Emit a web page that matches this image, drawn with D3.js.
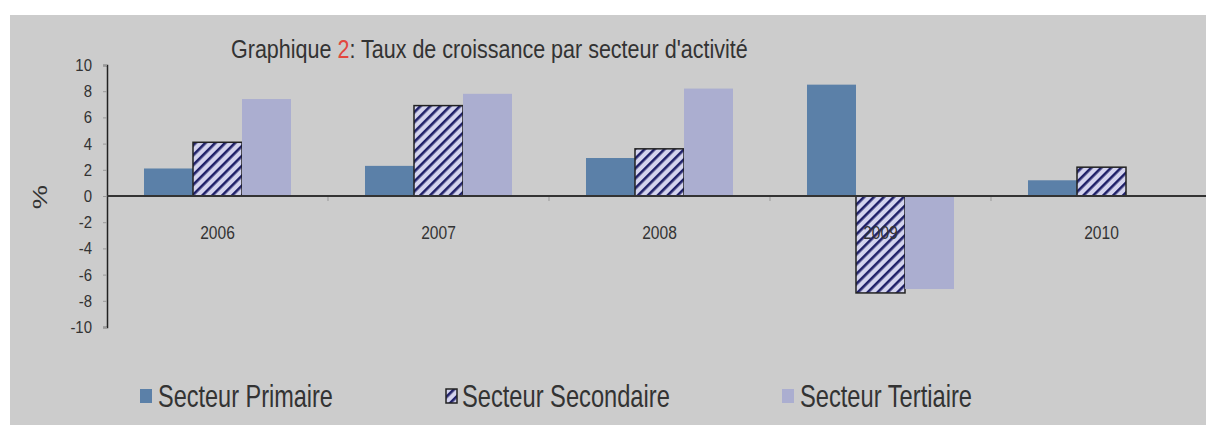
<!DOCTYPE html>
<html>
<head>
<meta charset="utf-8">
<script src="https://cdn.jsdelivr.net/npm/d3@7"></script>
<style>
  body { margin: 0; background: #fff; }
  svg { display: block; }
  text { font-family: "Liberation Sans", Arial, sans-serif; fill: #333; }
</style>
</head>
<body>
<svg width="1206" height="425"></svg>
<script>
const years = ["2006", "2007", "2008", "2009", "2010"];
const sectors = ["Secteur Primaire", "Secteur Secondaire", "Secteur Tertiaire"];
const primaire = [2.1, 2.3, 2.9, 8.5, 1.2];
const secondaire = [4.1, 6.9, 3.6, -7.4, 2.2];
const tertiaire = [7.4, 7.8, 8.2, -7.1, 0];
const yTicks = [10, 8, 6, 4, 2, 0, -2, -4, -6, -8, -10];

const svg = d3.select("svg");
const width = +svg.attr("width");
const height = +svg.attr("height");

// the original picture is stretched vertically, so text is squeezed in x
function squeeze(g, target) {
  const w = g.node().getBBox().width;
  const t = g.attr("data-t");
  g.attr("transform", t + " scale(" + target / w + ",1)");
}

// hatched pattern for the secondary sector
const defs = svg.append("defs");
const pat = defs
  .append("pattern")
  .attr("id", "hatch")
  .attr("patternUnits", "userSpaceOnUse")
  .attr("width", 7)
  .attr("height", 7)
  .attr("patternTransform", "rotate(45)");
pat.append("rect").attr("width", 7).attr("height", 7).attr("fill", "#d4d4ee");
pat.append("rect").attr("width", 2.6).attr("height", 7).attr("fill", "#1f2068");

const colors = ["#5b80a8", "url(#hatch)", "#abaed0"];

// grey chart area
svg
  .append("rect")
  .attr("x", 10)
  .attr("y", 15)
  .attr("width", width - 10)
  .attr("height", height - 15)
  .attr("fill", "#cccccc");

const x = d3.scaleBand().domain(years).range([107, 1212]);
const xSub = d3
  .scaleBand()
  .domain(d3.range(3))
  .range([0, x.bandwidth()])
  .paddingOuter(0.755)
  .paddingInner(0);
const y = d3.scaleLinear().domain([-10, 10]).range([327, 65]);

const series = [primaire, secondaire, tertiaire];

// small ticks between the years
svg
  .append("g")
  .selectAll("line")
  .data(years.slice(1))
  .enter()
  .append("line")
  .attr("x1", (d) => x(d))
  .attr("x2", (d) => x(d))
  .attr("y1", y(0))
  .attr("y2", y(0) + 5)
  .attr("stroke", "#999");

// bars
series.forEach(function (vals, si) {
  svg
    .append("g")
    .selectAll("rect")
    .data(vals)
    .enter()
    .append("rect")
    .attr("x", (d, i) => x(years[i]) + xSub(si))
    .attr("width", xSub.bandwidth())
    .attr("y", (d) => y(Math.max(0, d)))
    .attr("height", (d) => Math.abs(y(d) - y(0)))
    .attr("fill", colors[si])
    .attr("stroke", si === 1 ? "#222" : "none")
    .attr("stroke-width", si === 1 ? 1.5 : 0);
});

// y axis (labels drawn by hand so they can be squeezed)
const yAxis = svg
  .append("g")
  .attr("transform", "translate(107,0)")
  .call(d3.axisLeft(y).tickValues(yTicks).tickSize(4).tickFormat(""));
yAxis.select(".domain").attr("stroke", "#222").attr("stroke-width", 1.5);
yAxis.selectAll(".tick line").attr("stroke", "#999");

svg
  .append("g")
  .selectAll("text")
  .data(yTicks)
  .enter()
  .append("text")
  .attr("transform", (d) => "translate(92," + (y(d) + 6) + ") scale(0.88,1)")
  .attr("text-anchor", "end")
  .style("font-size", "17px")
  .text((d) => String(d));

// zero line
svg
  .append("line")
  .attr("x1", 107)
  .attr("x2", width)
  .attr("y1", y(0))
  .attr("y2", y(0))
  .attr("stroke", "#333")
  .attr("stroke-width", 1.8);

// category labels
svg
  .append("g")
  .selectAll("text")
  .data(years)
  .enter()
  .append("text")
  .attr("transform", (d) => "translate(" + (x(d) + x.bandwidth() / 2) + "," + (y(0) + 43) + ") scale(0.82,1)")
  .attr("text-anchor", "middle")
  .style("font-size", "19px")
  .text((d) => d);

// y label
svg
  .append("text")
  .attr("transform", "translate(47," + (y(0) + 1) + ") scale(1,1.3) rotate(-90)")
  .attr("text-anchor", "middle")
  .style("font-size", "21px")
  .text("%");

// title
const titleG = svg.append("g").attr("data-t", "translate(231,58)");
const title = titleG.append("text").style("font-size", "25px");
title.append("tspan").text("Graphique ");
title.append("tspan").style("fill", "#e2483e").text("2");
title.append("tspan").text(": Taux de croissance par secteur d'activité");
squeeze(titleG, 517);

// legend
const legendBox = [140, 446, 782];
const legendText = [158, 462, 800];
const legendW = [175, 208, 172];
sectors.forEach(function (s, i) {
  svg
    .append("rect")
    .attr("x", legendBox[i])
    .attr("y", 389)
    .attr("width", i === 1 ? 11 : 12)
    .attr("height", 14)
    .attr("fill", colors[i])
    .attr("stroke", i === 1 ? "#222" : "none")
    .attr("stroke-width", 1.5);
  const g = svg.append("g").attr("data-t", "translate(" + legendText[i] + ",407)");
  g.append("text").style("font-size", "32px").text(s);
  squeeze(g, legendW[i]);
});
</script>
</body>
</html>
